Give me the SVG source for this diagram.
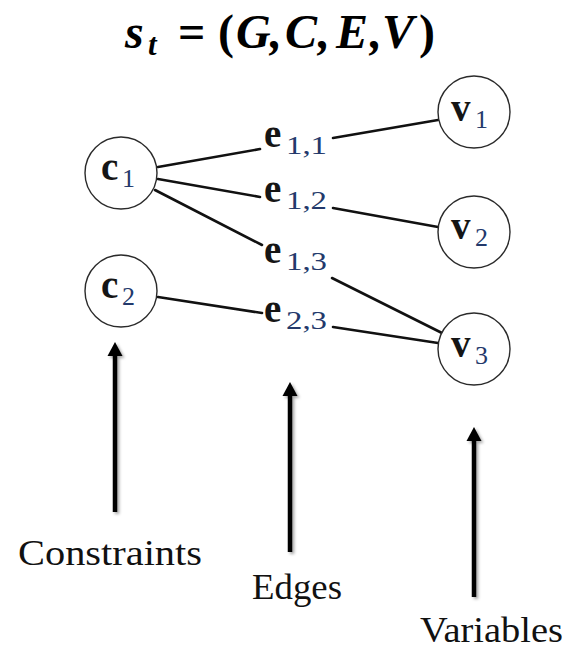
<svg xmlns="http://www.w3.org/2000/svg" width="575" height="653" viewBox="0 0 575 653">
<defs>
<style>
.node circle{fill:#fff;stroke:#2a2a2a;stroke-width:1.4}
.lbl{font-family:"Liberation Serif",serif;font-weight:bold;font-size:39px;fill:#151515}
.sub{font-family:"Liberation Serif",serif;font-size:26px;fill:#23396b}
.conn line{stroke:#111;stroke-width:2.6;stroke-linecap:round}
.cap{font-family:"Liberation Serif",serif;font-size:36px;fill:#111}
.title{font-family:"Liberation Serif",serif;font-weight:bold;font-style:italic;font-size:48px;fill:#000}
.arrow line{stroke:#000;stroke-width:4.5}
.arrow polygon{fill:#000}
</style>
<filter id="sh" x="-50%" y="-10%" width="200%" height="120%">
<feDropShadow dx="2" dy="2" stdDeviation="1.5" flood-color="#000" flood-opacity="0.35"/>
</filter>
</defs>
<rect width="575" height="653" fill="#fff"/>
<g id="title" class="title">
<text y="48"><tspan x="125">s</tspan><tspan x="148" y="55" font-size="31">t</tspan><tspan x="178" y="48" font-style="normal">=</tspan><tspan x="218" font-style="normal">(</tspan><tspan x="236">G</tspan><tspan x="270">,</tspan><tspan x="285">C</tspan><tspan x="318">,</tspan><tspan x="336">E</tspan><tspan x="370">,</tspan><tspan x="382">V</tspan><tspan x="419" font-style="normal">)</tspan></text>
</g>
<g id="connectors" class="conn">
<line x1="158" y1="167" x2="260" y2="149"/>
<line x1="158" y1="179" x2="260" y2="197"/>
<line x1="155" y1="190" x2="262" y2="245"/>
<line x1="158" y1="297" x2="262" y2="313"/>
<line x1="333" y1="138" x2="438" y2="120"/>
<line x1="333" y1="208" x2="438" y2="227"/>
<line x1="332" y1="278" x2="442" y2="333"/>
<line x1="333" y1="327" x2="438" y2="343"/>
</g>
<g id="c1" class="node"><circle cx="121" cy="173" r="36"/><text class="lbl" x="101" y="180">c</text><text class="sub" x="122" y="187">1</text></g>
<g id="c2" class="node"><circle cx="121" cy="291" r="36"/><text class="lbl" x="101" y="298">c</text><text class="sub" x="122" y="305">2</text></g>
<g id="v1" class="node"><circle cx="474" cy="112" r="36"/><text class="lbl" x="451" y="121">v</text><text class="sub" x="475" y="128">1</text></g>
<g id="v2" class="node"><circle cx="474" cy="232" r="36"/><text class="lbl" x="451" y="239">v</text><text class="sub" x="475" y="246">2</text></g>
<g id="v3" class="node"><circle cx="474" cy="349" r="36"/><text class="lbl" x="451" y="357">v</text><text class="sub" x="475" y="364">3</text></g>
<g id="e11"><text class="lbl" x="264" y="147">e</text><text class="sub" x="286" y="154" textLength="41" lengthAdjust="spacingAndGlyphs">1,1</text></g>
<g id="e12"><text class="lbl" x="264" y="202">e</text><text class="sub" x="286" y="209" textLength="41" lengthAdjust="spacingAndGlyphs">1,2</text></g>
<g id="e13"><text class="lbl" x="264" y="263">e</text><text class="sub" x="286" y="270" textLength="41" lengthAdjust="spacingAndGlyphs">1,3</text></g>
<g id="e23"><text class="lbl" x="264" y="322">e</text><text class="sub" x="286" y="329" textLength="41" lengthAdjust="spacingAndGlyphs">2,3</text></g>
<g id="annotations" class="arrow" filter="url(#sh)">
<line x1="115" y1="512" x2="115" y2="354"/><polygon points="115,342 107.5,356 122.5,356"/>
<line x1="290" y1="552" x2="290" y2="394"/><polygon points="290,382 282.5,396 297.5,396"/>
<line x1="474" y1="597" x2="474" y2="439"/><polygon points="474,427 466.5,441 481.5,441"/>
</g>
<g id="captions" class="cap">
<text x="18" y="565" textLength="184" lengthAdjust="spacingAndGlyphs">Constraints</text>
<text x="252" y="599" textLength="90" lengthAdjust="spacingAndGlyphs">Edges</text>
<text x="420" y="642" textLength="143" lengthAdjust="spacingAndGlyphs">Variables</text>
</g>
</svg>
